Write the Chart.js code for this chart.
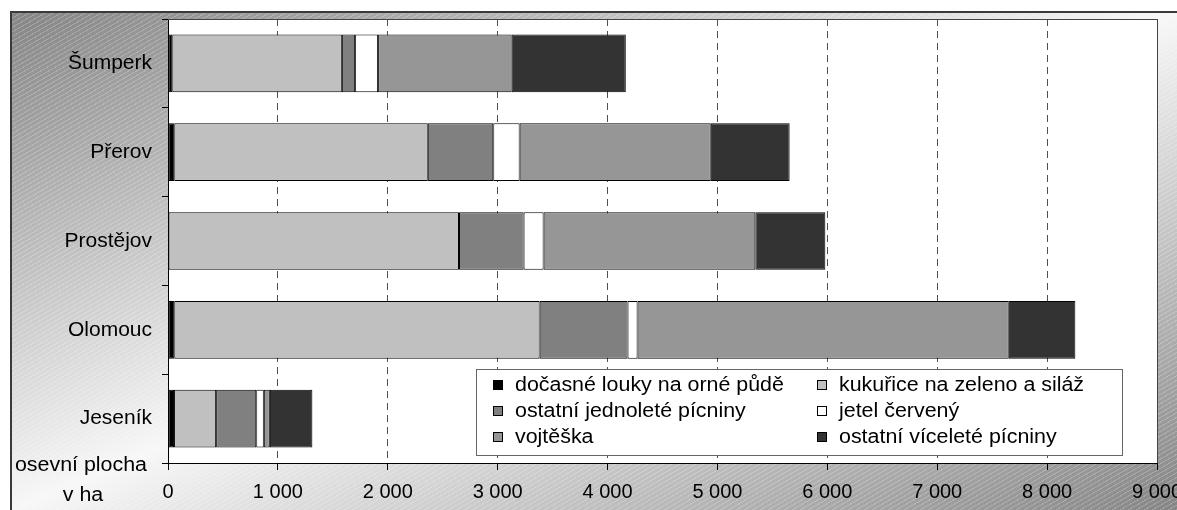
<!DOCTYPE html>
<html>
<head>
<meta charset="utf-8">
<script src="https://cdn.jsdelivr.net/npm/chart.js@4.4.1/dist/chart.umd.min.js"></script>
<style>
    html, body {
        margin: 0;
        padding: 0;
        background: #ffffff;
    }
    #wrap {
        position: relative;
        width: 1177px;
        height: 510px;
        overflow: hidden;
    }
    #frame {
        position: absolute;
        left: 10px;
        top: 11px;
        width: 1167px;
        height: 499px;
        box-sizing: border-box;
        border-left: 2px solid #3a3a3a;
        border-top: 2px solid #3a3a3a;
        background:
            repeating-linear-gradient(150deg, rgba(255, 255, 255, 0.22) 0px, rgba(255, 255, 255, 0.22) 1px, rgba(255, 255, 255, 0) 1px, rgba(255, 255, 255, 0) 4px),
            linear-gradient(to bottom right, #858585 0%, #f7f7f7 50%, #858585 100%);
    }
    #orderChart {
        position: absolute;
        left: 0;
        top: 0;
    }
</style>
</head>
<body>
<div id="wrap">
    <div id="frame"></div>
    <canvas id="orderChart" width="1177" height="510"></canvas>
</div>
<script>
// data
const categories = ["Šumperk", "Přerov", "Prostějov", "Olomouc", "Jeseník"];
const seriesNames = [
    "dočasné louky na orné půdě",
    "kukuřice na zeleno a siláž",
    "ostatní jednoleté pícniny",
    "jetel červený",
    "vojtěška",
    "ostatní víceleté pícniny",
];
const docasneLouky = [39, 57, 0, 57, 55];
const kukurice = [1543, 2307, 2648, 3325, 383];
const ostatniJednolete = [121, 596, 588, 800, 365];
const jetelCerveny = [209, 240, 182, 91, 69];
const vojteska = [1215, 1739, 1927, 3378, 55];
const ostatniVicelete = [1039, 718, 637, 606, 387];
const xTickLabels = ["0", "1 000", "2 000", "3 000", "4 000", "5 000", "6 000", "7 000", "8 000", "9 000"];
const axisTitle = ["osevní plocha", "v ha"];

const seriesValues = [docasneLouky, kukurice, ostatniJednolete, jetelCerveny, vojteska, ostatniVicelete];
const seriesColors = ["#000000", "#c0c0c0", "#808080", "#ffffff", "#969696", "#333333"];

const FONT = '"Liberation Sans", Arial, sans-serif';

// white plot background + frame of the plot
const plotBackground = {
    id: "plotBackground",
    beforeDraw(chart) {
        const { ctx, chartArea } = chart;
        ctx.save();
        ctx.fillStyle = "#ffffff";
        ctx.fillRect(chartArea.left, chartArea.top, chartArea.right - chartArea.left, chartArea.bottom - chartArea.top);
        ctx.restore();
    },
    afterDraw(chart) {
        const { ctx, chartArea } = chart;
        ctx.save();
        ctx.strokeStyle = "#444444";
        ctx.lineWidth = 1;
        ctx.beginPath();
        ctx.moveTo(chartArea.left, Math.round(chartArea.top) + 0.5);
        ctx.lineTo(Math.round(chartArea.right) + 0.5, Math.round(chartArea.top) + 0.5);
        ctx.lineTo(Math.round(chartArea.right) + 0.5, chartArea.bottom);
        ctx.stroke();

        // axis title bottom left
        ctx.fillStyle = "#000000";
        ctx.font = "20px " + FONT;
        ctx.textBaseline = "middle";
        ctx.save();
        ctx.translate(147, 465);
        ctx.scale(1.07, 1);
        ctx.textAlign = "right";
        ctx.fillText(axisTitle[0], 0, 0);
        ctx.restore();
        ctx.save();
        ctx.translate(83, 495);
        ctx.scale(1.07, 1);
        ctx.textAlign = "center";
        ctx.fillText(axisTitle[1], 0, 0);
        ctx.restore();
        ctx.restore();
    },
};

// legend box inside the plot
const boxLegend = {
    id: "boxLegend",
    afterDatasetsDraw(chart) {
        const ctx = chart.ctx;
        const x0 = 476.5, y0 = 369.5, w = 646, h = 86;
        ctx.save();
        ctx.fillStyle = "#ffffff";
        ctx.fillRect(x0, y0, w, h);
        ctx.strokeStyle = "#666666";
        ctx.lineWidth = 1;
        ctx.strokeRect(x0, y0, w, h);
        ctx.font = "20px " + FONT;
        ctx.textBaseline = "middle";
        chart.data.datasets.forEach((ds, i) => {
            const col = i % 2;
            const row = Math.floor(i / 2);
            const sx = col ? 817 : 493;
            const cy = 384 + row * 26.3;
            ctx.fillStyle = ds.backgroundColor;
            ctx.fillRect(sx + 0.5, Math.round(cy - 4.5) + 0.5, 9, 9);
            ctx.strokeStyle = "#000000";
            ctx.strokeRect(sx + 0.5, Math.round(cy - 4.5) + 0.5, 9, 9);
            ctx.save();
            ctx.translate(sx + 22, cy + 1);
            ctx.scale(1.07, 1);
            ctx.fillStyle = "#000000";
            ctx.fillText(ds.label, 0, 0);
            ctx.restore();
        });
        ctx.restore();
    },
};

function createChart() {
    const ctx = document.getElementById("orderChart").getContext("2d");

    new Chart(ctx, {
        type: "bar",
        data: {
            labels: categories,
            datasets: seriesNames.map((name, i) => ({
                label: name,
                data: seriesValues[i],
                backgroundColor: seriesColors[i],
                borderColor: "#000000",
                borderWidth: 1,
                borderSkipped: false,
                categoryPercentage: 0.65,
                barPercentage: 1,
            })),
        },
        options: {
            indexAxis: "y",
            responsive: false,
            animation: false,
            devicePixelRatio: 1,
            layout: {
                padding: { top: 19, right: 20, left: 0, bottom: 0 },
            },
            plugins: {
                legend: { display: false },
                tooltip: { enabled: false },
            },
            scales: {
                x: {
                    stacked: true,
                    min: 0,
                    max: 9000,
                    afterFit(scale) {
                        scale.height = 47;
                        scale.paddingLeft = 0;
                        scale.paddingRight = 0;
                    },
                    ticks: {
                        stepSize: 1000,
                        color: "#000000",
                        padding: 10,
                        maxRotation: 0,
                        autoSkip: false,
                        font: { family: FONT, size: 20 },
                        callback: (value, index) => xTickLabels[index],
                    },
                    grid: {
                        color: "#505050",
                        lineWidth: 1,
                        tickLength: 7,
                        tickColor: "#000000",
                        tickBorderDash: [],
                    },
                    border: {
                        display: true,
                        color: "#000000",
                        width: 1,
                        dash: [7, 5],
                    },
                },
                y: {
                    stacked: true,
                    afterFit(scale) {
                        scale.width = 168;
                        scale.paddingTop = 0;
                        scale.paddingBottom = 0;
                    },
                    ticks: {
                        color: "#000000",
                        padding: 10,
                        font: { family: FONT, size: 21 },
                    },
                    grid: {
                        drawOnChartArea: false,
                        tickLength: 6,
                        color: "#000000",
                        offset: true,
                    },
                    border: {
                        display: true,
                        color: "#000000",
                        width: 1,
                    },
                },
            },
        },
        plugins: [plotBackground, boxLegend],
    });
}

createChart();
</script>
</body>
</html>
